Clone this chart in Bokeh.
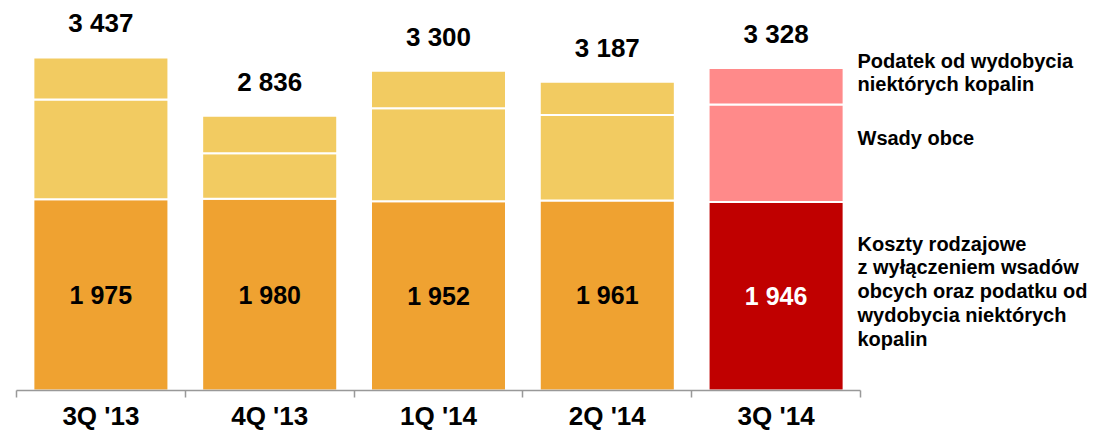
from bokeh.plotting import figure
from bokeh.models import (Range1d, LinearAxis, FixedTicker, ColumnDataSource)
from bokeh.core.properties import value
from bokeh.embed import file_html
from bokeh.resources import INLINE

# ---- data ----
categories = ["3Q '13", "4Q '13", "1Q '14", "2Q '14", "3Q '14"]
koszty = [1975, 1980, 1952, 1961, 1946]      # costs excl. purchased inputs and tax
wsady = [1028, 469, 961, 882, 1007]          # purchased metal-bearing materials
podatek = [434, 387, 387, 344, 375]          # minerals extraction tax
totals = [3437, 2836, 3300, 3187, 3328]

legend_podatek = ["Podatek od  wydobycia", "niektórych kopalin"]
legend_wsady = ["Wsady obce"]
legend_koszty = ["Koszty rodzajowe", "z wyłączeniem wsadów", "obcych oraz podatku od",
                 "wydobycia niektórych", "kopalin"]

# ---- style ----
FONT = "Liberation Sans"
C_BOTTOM = ["#EFA231"] * 4 + ["#C00000"]
C_UPPER = ["#F2CB61"] * 4 + ["#FF8A8A"]
C_TXT = ["black"] * 4 + ["white"]

W, H = 1120, 433
LEFT = 16
FRAME_BOTTOM = 390
FRAME_H = 390
PX_PER_UNIT = 0.09689
CAT_PX = 168.8
Y_END = FRAME_H / PX_PER_UNIT
N = len(categories)
X_END = -0.5 + (W - LEFT) / CAT_PX


def px_to_y(py):
    return (FRAME_BOTTOM - py) / PX_PER_UNIT


def fmt(v):
    return f"{v:,}".replace(",", " ")


xc = list(range(N))  # category positions
b1 = [0] * N
t1 = koszty
b2 = koszty
t2 = [k + w for k, w in zip(koszty, wsady)]
b3 = t2
t3 = [a + p for a, p in zip(t2, podatek)]

src = ColumnDataSource(dict(
    x=xc, cat=categories, b1=b1, t1=t1, b2=b2, t2=t2, b3=b3, t3=t3,
    cb=C_BOTTOM, cu=C_UPPER, tc=C_TXT,
    kmid=[k / 2 for k in koszty], klab=[fmt(k) for k in koszty],
    tot=totals, tlab=[fmt(t) for t in totals],
))

p = figure(x_range=Range1d(-0.5, X_END), y_range=Range1d(0, Y_END), width=W, height=H,
           output_backend="svg", toolbar_location=None,
           x_axis_location=None, y_axis_location=None,
           min_border_left=LEFT, min_border_right=0,
           min_border_top=0, min_border_bottom=H - FRAME_BOTTOM)
p.outline_line_color = None
p.xgrid.grid_line_color = None
p.ygrid.grid_line_color = None
p.background_fill_color = "white"
p.border_fill_color = "white"

BW = 0.80
p.vbar(x="x", bottom="b1", top="t1", width=BW, source=src,
       fill_color="cb", line_color="white", line_width=2)
p.vbar(x="x", bottom="b2", top="t2", width=BW, source=src,
       fill_color="cu", line_color="white", line_width=2)
p.vbar(x="x", bottom="b3", top="t3", width=BW, source=src,
       fill_color="cu", line_color="white", line_width=2)

p.text(x="x", y="kmid", text="klab", source=src, text_color="tc",
       text_font=value(FONT), text_font_style="bold", text_font_size="25px",
       text_align="center", text_baseline="middle")
p.text(x="x", y="tot", text="tlab", source=src, text_color="black",
       text_font=value(FONT), text_font_style="bold", text_font_size="26px",
       text_align="center", text_baseline="middle", y_offset=-34)

# axis: labels at category centres, tick marks at category boundaries
ax = LinearAxis(ticker=FixedTicker(ticks=xc, minor_ticks=[i - 0.5 for i in range(N + 1)]),
                bounds=(-0.5, N - 0.5),
                major_tick_out=0, major_tick_in=0, major_tick_line_color=None,
                minor_tick_out=7, minor_tick_in=0,
                minor_tick_line_color="#999999", minor_tick_line_width=1.5,
                axis_line_color="#999999", axis_line_width=1.5,
                major_label_overrides={i: c for i, c in enumerate(categories)},
                major_label_standoff=3,
                major_label_text_font=FONT, major_label_text_font_style="bold",
                major_label_text_font_size="26px", major_label_text_color="black")
p.add_layout(ax, "below")

# side legend texts
lg_text, lg_y = [], []
for lines, py0 in ((legend_podatek, 60), (legend_wsady, 137), (legend_koszty, 243)):
    for j, t in enumerate(lines):
        lg_text.append(t)
        lg_y.append(px_to_y(py0 + j * 23.75))
p.text(x=[N - 0.5] * len(lg_text), y=lg_y, text=lg_text, x_offset=-3,
       text_align="left", text_baseline="middle", text_font=value(FONT),
       text_font_style="bold", text_font_size="20px", text_color="black")

open("out.html", "w").write(file_html(p, INLINE))
